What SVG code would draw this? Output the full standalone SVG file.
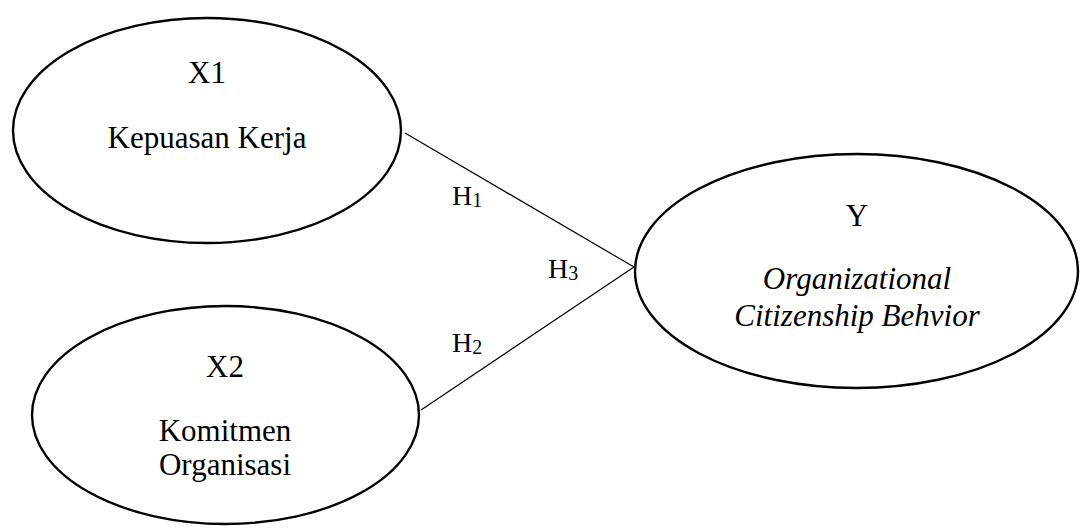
<svg xmlns="http://www.w3.org/2000/svg" width="1080" height="528" viewBox="0 0 1080 528">
<style>
.node{fill:#fff;stroke:#000;stroke-width:2.4}
.t{font-family:"Liberation Serif","Times New Roman",serif;font-size:31px;fill:#000;text-anchor:middle}
.it{font-style:italic}
.h{font-family:"Liberation Serif","Times New Roman",serif;font-size:28px;fill:#000}
.sub{font-size:20px}
.conn{stroke:#000;stroke-width:1.2;fill:none}
</style>
<rect width="1080" height="528" fill="#fff"/>
<g id="connectors">
<line class="conn" x1="405" y1="133" x2="634" y2="267"/>
<line class="conn" x1="421" y1="410" x2="634" y2="267"/>
</g>
<g id="x1">
<ellipse class="node" cx="207" cy="130.5" rx="194" ry="112.5"/>
<text class="t" x="207" y="83">X1</text>
<text class="t" x="207" y="148">Kepuasan Kerja</text>
</g>
<g id="x2">
<ellipse class="node" cx="225.5" cy="415" rx="193.5" ry="109"/>
<text class="t" x="225" y="377">X2</text>
<text class="t" x="225" y="441">Komitmen</text>
<text class="t" x="225" y="475">Organisasi</text>
</g>
<g id="y">
<ellipse class="node" cx="856.5" cy="271" rx="221.5" ry="117"/>
<text class="t" x="857" y="226">Y</text>
<text class="t it" x="857" y="289">Organizational</text>
<text class="t it" x="857" y="326">Citizenship Behvior</text>
</g>
<g id="labels">
<text class="h" x="452" y="205">H<tspan class="sub" dy="2">1</tspan></text>
<text class="h" x="548" y="278">H<tspan class="sub" dy="2">3</tspan></text>
<text class="h" x="452" y="352">H<tspan class="sub" dy="2">2</tspan></text>
</g>
</svg>
